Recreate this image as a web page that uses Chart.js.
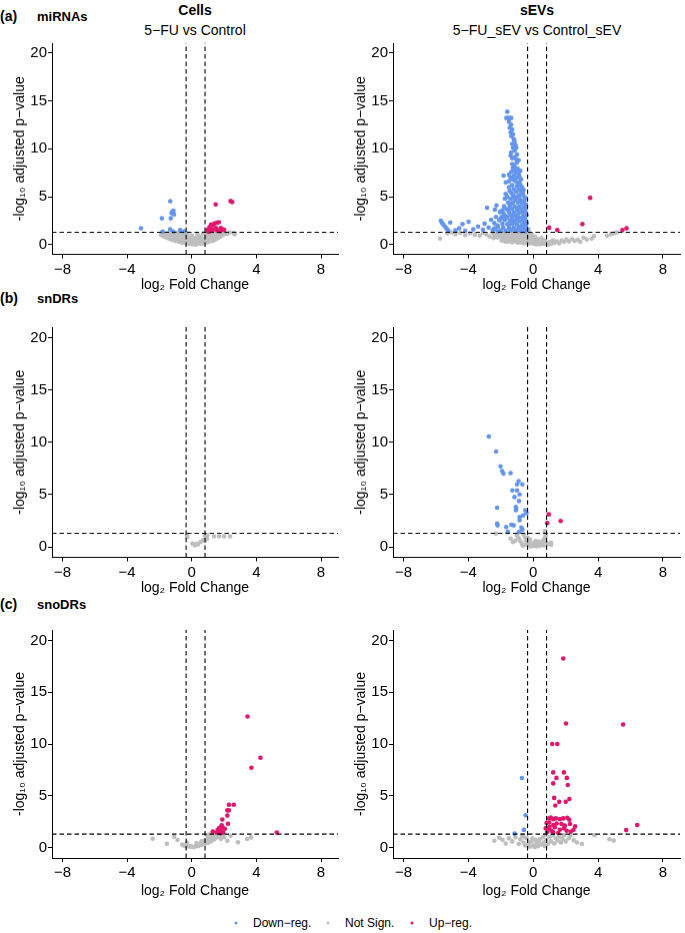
<!DOCTYPE html>
<html lang="en">
<head>
<meta charset="UTF-8">
<title>Volcano plots: miRNAs, snDRs, snoDRs</title>
<script src="https://cdn.jsdelivr.net/npm/chart.js"></script>
<style>
  body { margin: 0; background: #fff; font-family: "Liberation Sans", Arial, Helvetica, sans-serif; color: #000; }
  #fig { position: relative; width: 685px; height: 933px; overflow: hidden; }
  .t { position: absolute; white-space: nowrap; transform: translate(-50%, -50%); }
  .r { position: absolute; white-space: nowrap; transform: translateY(-50%); font-weight: bold; }
  .dot { position: absolute; width: 3px; height: 3px; border-radius: 50%; transform: translate(-50%, -50%); }
  canvas { position: absolute; }
</style>
</head>
<body>
<div id="fig">
  <div class="r" style="left:0;top:16px;font-size:14px">(a)</div>
  <div class="r" style="left:37px;top:16px;font-size:13px">miRNAs</div>
  <div class="r" style="left:0;top:298px;font-size:14px">(b)</div>
  <div class="r" style="left:37px;top:298px;font-size:13px">snDRs</div>
  <div class="r" style="left:0;top:604px;font-size:14px">(c)</div>
  <div class="r" style="left:37px;top:604px;font-size:13px">snoDRs</div>

  <div class="t" style="left:195px;top:10px;font-size:14px;font-weight:bold">Cells</div>
  <div class="t" style="left:195px;top:30px;font-size:14px">5−FU vs Control</div>
  <div class="t" style="left:537px;top:10px;font-size:14px;font-weight:bold">sEVs</div>
  <div class="t" style="left:537px;top:30px;font-size:14px">5−FU_sEV vs Control_sEV</div>

  <div class="dot" style="left:236px;top:923px;background:#6495ED"></div>
  <div class="r" style="left:253px;top:923px;font-size:12px;font-weight:normal">Down−reg.</div>
  <div class="dot" style="left:328px;top:923px;background:#BEBEBE"></div>
  <div class="r" style="left:345px;top:923px;font-size:12px;font-weight:normal">Not Sign.</div>
  <div class="dot" style="left:412px;top:923px;background:#E0176C"></div>
  <div class="r" style="left:429px;top:923px;font-size:12px;font-weight:normal">Up−reg.</div>
</div>

<script>
// axis ticks and cut-offs
const xTicks = [-8, -4, 0, 4, 8];
const yTicks = [0, 5, 10, 15, 20];
const fcLow = -0.35;
const fcHigh = 0.82;
const pCut = 1.3;

// (a) miRNAs, cells
const a1Down = [[-1.33,4.54],[-1.13,3.55],[-1.25,3.3],[-1.1,3.15],[-1.2,3.45],[-1.85,2.75],[-1.3,2.75],
  [-3.14,1.72],[-1.8,1.38],[-1.34,1.6],[-1.14,1.38],[-0.72,1.52],[-0.47,1.4]];
const a1Up = [[1.48,4.2],[2.4,4.55],[2.5,4.45],[0.98,1.55],[1.1,1.85],[1.2,2.1],[1.3,2.05],[1.4,2.2],
  [1.55,2.3],[1.68,2.35],[1.5,1.75],[1.3,1.6],[1.15,1.45],[1.05,1.35],[1.8,1.75],[1.9,1.6],[2.0,1.55],
  [1.6,1.45],[1.42,1.6],[1.75,1.4]];
const a1NS = [[-1.9,1.05],[-1.85,1.25],[-1.8,0.9],[-1.7,1.15],[-1.65,0.8],[-1.6,1.0],[-1.5,0.7],[-1.5,1.25],
  [-1.4,0.9],[-1.35,0.6],[-1.3,1.1],[-1.2,0.5],[-1.2,0.85],[-1.1,1.2],[-1.05,0.65],[-1.0,0.4],[-0.95,0.95],
  [-0.9,1.25],[-0.85,0.55],[-0.8,0.3],[-0.75,0.8],[-0.7,1.1],[-0.65,0.45],[-0.6,0.2],[-0.55,0.7],[-0.5,1.0],
  [-0.45,0.35],[-0.4,0.6],[-0.35,0.15],[-0.3,0.85],[-0.25,1.2],[-0.2,0.4],[-0.15,0.1],[-0.1,0.6],[-0.05,0.25],
  [0,0.95],[0.05,0.05],[0.1,0.45],[0.15,0.2],[0.2,0.7],[0.25,0.02],[0.3,0.35],[0.35,1.1],[0.4,0.12],[0.45,0.55],
  [0.5,0.25],[0.55,0.85],[0.6,0.1],[0.65,0.4],[0.7,1.2],[0.75,0.2],[0.8,0.65],[0.85,0.35],[0.9,0.95],[0.95,0.25],
  [1.0,0.55],[1.05,1.25],[1.1,0.35],[1.15,0.8],[1.2,0.5],[1.25,1.05],[1.3,0.4],[1.35,0.7],[1.4,1.2],[1.45,0.55],
  [1.5,0.9],[1.55,0.65],[1.6,1.1],[1.65,0.75],[1.7,1.25],[1.75,0.85],[1.8,1.05],[1.85,0.95],[1.9,1.2],[2.0,1.1],
  [2.1,1.25],[2.2,1.15],[2.35,1.3],[2.6,1.25],[2.65,1.1],
  [-1.0,1.05],[-0.6,0.9],[-0.2,0.75],[0.1,0.25],[0.45,0.85],[0.8,0.3],[1.1,0.6],[1.3,0.95],[-0.4,1.2],
  [0.25,0.5],[0.6,0.5],[-0.8,0.65],[0.95,1.1],[1.6,0.85],[-1.3,0.75],[0.0,0.4]];

// (a) miRNAs, sEVs
const a2Down = [[-1.6,13.85],[-1.66,13.2],[-1.56,13.2],[-1.46,13.2],[-1.36,13.2],
  [-1.37,12.5],[-1.3,12.0],[-1.45,12.2],[-1.25,11.5],[-1.35,11.3],[-1.2,11.0],
  [-1.16,10.8],[-1.3,10.5],[-1.25,10.1],[-1.05,10.1],[-1.15,9.8],[-1.37,9.6],[-1.0,9.4],[-1.16,9.1],[-1.3,9.0],
  [-1.01,8.55],[-1.2,8.3],[-1.25,8.0],[-1.1,8.0],[-0.95,7.9],[-1.35,7.6],[-1.05,7.5],[-0.9,7.4],[-1.83,7.2],
  [-1.2,7.2],[-1.0,7.0],[-0.85,7.1],[-1.4,7.0],
  [-1.7,6.5],[-1.5,6.6],[-1.1,6.6],[-0.9,6.5],[-0.8,6.3],[-1.3,6.2],[-1.0,6.1],[-0.7,6.0],[-1.2,5.8],[-0.9,5.8],
  [-0.75,5.6],[-1.45,5.6],[-1.05,5.5],[-0.65,5.4],[-1.7,5.3],[-1.25,5.2],[-0.85,5.2],[-0.6,5.1],[-1.0,5.0],
  [-1.75,4.8],[-1.4,4.8],[-1.1,4.7],[-0.8,4.7],[-0.55,4.6],[-1.55,4.4],[-1.25,4.4],[-0.95,4.4],[-0.7,4.3],
  [-0.45,4.2],[-2.27,4.1],[-1.8,4.0],[-1.45,4.0],[-1.15,4.0],[-0.85,3.95],[-0.6,3.9],[-2.85,3.85],[-2.37,3.65],
  [-1.65,3.7],[-1.3,3.7],[-1.0,3.6],[-0.75,3.6],[-0.5,3.5],[-2.06,3.4],[-1.5,3.4],[-1.2,3.35],[-0.9,3.3],
  [-0.65,3.25],[-1.83,3.25],[-0.42,3.1],[-1.4,3.1],[-1.05,3.05],
  [-2.3,2.9],[-1.95,2.9],[-1.6,2.85],[-1.3,2.8],[-1.0,2.75],[-0.75,2.8],[-0.5,2.7],[-2.6,2.6],[-2.1,2.55],
  [-1.75,2.6],[-1.45,2.5],[-1.15,2.5],[-0.85,2.45],[-0.6,2.4],[-0.4,2.3],[-3.0,2.2],[-2.4,2.25],[-1.9,2.2],
  [-1.6,2.15],[-1.3,2.2],[-1.0,2.1],[-0.7,2.05],[-0.45,2.0],[-3.4,1.9],[-2.75,1.8],[-2.2,1.85],[-1.85,1.8],
  [-1.5,1.75],[-1.2,1.8],[-0.9,1.7],[-0.6,1.65],[-0.4,1.6],[-3.7,1.6],[-3.1,1.55],[-2.5,1.5],[-2.0,1.5],
  [-1.7,1.45],[-1.4,1.5],[-1.05,1.45],[-0.75,1.4],[-0.5,1.4],[-4.57,1.71],[-4.36,2.15],[-3.99,2.39],[-5.12,2.32],
  [-5.7,2.5],[-5.63,2.3],[-5.55,2.1],[-5.45,1.9],[-5.35,1.7],[-5.25,1.5],[-4.2,1.45],[-4.8,1.5],
  [-1.5,12.8],[-1.4,11.7],[-1.1,10.4],[-1.4,9.3],[-0.9,8.8],[-1.05,8.9],[-1.3,8.4],[-0.8,7.7],[-1.15,7.7],
  [-1.5,7.3],[-0.75,6.8],[-1.25,6.8],[-0.95,6.2],[-1.5,6.0],[-0.6,5.7],[-1.35,5.4],[-0.5,4.9],[-0.9,4.9],
  [-1.2,4.9],[-1.6,5.0],[-0.65,4.5],[-1.35,4.3],[-0.5,3.8],[-1.0,3.85],[-1.55,3.7],[-1.9,3.6],[-0.8,3.45],
  [-1.7,3.0],[-0.55,3.0],[-1.25,3.0],[-0.95,2.95],[-2.0,2.7],[-0.65,2.6],[-1.35,2.4],[-0.5,2.15],[-1.1,2.3],
  [-2.2,2.0],[-1.5,2.0],[-0.8,1.85],[-2.4,1.7],[-1.3,1.6],[-0.6,1.5],[-2.2,1.4],[-0.95,1.55]];
const a2Up = [[0.98,1.78],[1.48,1.54],[3.03,2.15],[3.51,4.89],[5.5,1.54],[5.75,1.71]];
const a2NS = [[-5.75,0.65],[-5.3,1.2],[-5.05,1.3],[-4.8,1.1],[-4.5,1.25],[-4.2,1.0],[-3.9,1.2],[-3.6,1.05],
  [-3.3,0.95],[-3.1,1.25],[-2.9,1.1],[-2.7,0.85],[-2.5,1.2],[-2.35,0.95],[-2.2,0.75],[-2.1,1.15],[-2.0,0.9],
  [-1.9,0.6],[-1.85,1.25],[-1.75,1.0],[-1.7,0.5],[-1.6,0.8],[-1.55,1.2],[-1.5,0.4],[-1.45,0.95],[-1.4,0.65],
  [-1.3,1.1],[-1.25,0.35],[-1.2,0.8],[-1.15,1.25],[-1.1,0.55],[-1.05,0.95],[-1.0,0.3],[-0.95,1.15],[-0.9,0.7],
  [-0.85,0.45],[-0.8,1.0],[-0.75,0.25],[-0.7,1.25],[-0.65,0.6],[-0.6,0.85],[-0.55,0.35],[-0.5,1.1],[-0.45,0.5],
  [-0.4,0.2],[-0.35,0.8],[-0.3,1.3],[-0.28,1.6],[-0.25,0.45],[-0.2,0.15],[-0.15,0.7],[-0.1,1.05],[-0.05,0.3],
  [0,0.55],[0.05,0.1],[0.1,0.85],[0.15,0.35],[0.2,0.05],[0.25,0.6],[0.3,0.2],[0.4,0.4],[0.45,0.05],[0.5,0.7],
  [0.55,0.25],[0.65,0.1],[0.7,0.45],[0.8,0.2],[0.9,0.02],[1.0,0.3],[1.1,0.1],[1.2,0.45],[1.3,0.2],[1.45,0.35],
  [1.6,0.15],[1.75,0.45],[1.9,0.3],[2.05,0.55],[2.2,0.35],[2.4,0.6],[2.55,0.4],[2.75,0.5],[2.9,0.3],[3.1,0.75],
  [3.3,0.55],[3.6,0.65],[3.75,0.9],[4.55,0.95],[4.8,1.1],[5.0,1.2],[5.15,1.3],
  [-2.45,0.7],[-2.25,1.05],[-2.05,1.25],[-1.95,0.45],[-1.8,0.75],[-1.65,1.05],[-1.6,0.3],[-1.45,0.55],
  [-1.35,0.85],[-1.3,0.25],[-1.2,1.2],[-1.15,0.45],[-1.05,0.7],[-0.95,0.2],[-0.9,0.95],[-0.85,1.25],
  [-0.75,0.55],[-0.7,0.8],[-0.6,0.15],[-0.55,0.65],[-0.5,0.4],[-0.45,0.95],[-0.4,1.25],[-0.35,0.3],
  [-0.3,0.6],[-0.2,0.9],[-0.15,0.4],[-0.1,0.2],[0,0.75],[0.1,0.45],[0.2,0.25],[0.3,0.5],[0.35,0.15],
  [0.6,0.35],[0.75,0.15],[-0.25,1.1],[-0.65,1.1],[-1.0,0.5],[-1.4,1.2],[-1.75,0.35]];

// (b) snDRs, cells
const b1NS = [[-0.3,1.1],[-0.28,0.95],[0.04,0.32],[0.19,0.16],[0.3,0.28],[0.39,0.25],[0.56,0.48],[0.7,0.64],
  [0.8,0.57],[0.93,0.76],[0.96,1.1],[0.82,1.12],[0.88,0.9],[1.38,1.02],[1.69,1.02],[2.0,1.02],[2.37,1.02]];

// (b) snDRs, sEVs
const b2Down = [[-2.74,10.54],[-2.29,9.11],[-2.02,7.69],[-1.92,7.24],[-1.84,7.0],[-1.4,7.05],[-0.9,6.29],
  [-1.0,5.97],[-0.67,5.97],[-1.29,5.4],[-1.0,5.4],[-0.84,5.02],[-1.16,4.76],[-0.88,4.38],[-0.49,3.5],
  [-0.42,3.24],[-1.07,3.81],[-1.07,3.5],[-2.23,3.75],[-0.84,2.86],[-0.63,3.0],[-0.84,2.54],[-2.23,2.22],
  [-2.2,2.06],[-1.35,2.12],[-1.21,2.06],[-1.67,1.9],[-0.73,1.84],[-0.67,1.65],[-1.57,1.43],[-0.88,1.43],
  [-1.05,3.65]];
const b2Up = [[0.96,3.11],[0.86,2.29],[1.69,2.48]];
const b2NS = [[-2.3,1.27],[-1.4,0.79],[-1.25,0.47],[-1.0,1.1],[-0.9,0.85],[-0.8,0.55],[-0.7,0.3],[-0.6,1.2],
  [-0.5,0.9],[-0.45,0.6],[-0.4,0.25],[-0.3,0.45],[-0.25,0.15],[-0.2,0.7],[-0.1,0.3],[0,0.1],[0.05,0.4],
  [0.1,0.2],[0.2,0.05],[0.25,0.3],[0.3,0.15],[0.35,0.5],[0.4,0.1],[0.5,0.2],[0.55,0.35],[0.6,0.6],[0.65,0.15],
  [0.7,0.8],[0.75,1.0],[0.78,1.25],[0.72,1.5],[0.8,0.45],[0.85,0.25],[-0.55,0.2],[-0.65,0.1],[-0.35,0.9],
  [0.15,0.55],[-0.15,0.05],[1.1,0.4],[1.1,0.2],[-1.1,0.6]];

// (c) snoDRs, cells
const c1Up = [[3.45,12.66],[4.25,8.67],[3.69,7.71],[2.3,4.14],[2.6,4.14],[2.2,3.6],[2.3,3.6],[2.2,3.09],
  [1.89,2.71],[2.24,2.3],[1.9,2.0],[1.85,2.15],[2.05,1.82],[1.78,1.76],[1.68,1.5],[1.54,1.45],[1.89,1.45],
  [1.8,1.4],[1.95,1.5],[1.3,1.55],[5.26,1.45],[1.6,1.7],[1.7,1.9]];
const c1NS = [[-2.42,0.86],[-1.54,0.38],[-1.09,1.05],[-0.88,0.73],[-0.6,0.3],[-0.5,0.2],[-0.4,0.15],[-0.3,0.2],
  [-0.2,0.1],[-0.1,0.15],[0,0.1],[0.1,0.05],[0.2,0.1],[0.3,0.2],[0.4,0.15],[0.5,0.3],[0.6,0.25],[0.7,0.4],
  [0.8,0.35],[0.9,0.55],[1.0,0.45],[1.1,0.7],[1.2,0.6],[1.3,0.9],[1.4,0.8],[1.5,1.1],[1.6,1.0],[1.7,1.2],
  [1.0,0.9],[1.2,1.1],[0.8,0.7],[0.95,1.2],[1.15,1.3],[1.35,1.25],[2.2,0.67],[2.86,0.51],[3.43,0.83],
  [3.67,0.99],[2.4,1.15],[1.9,1.25],[2.0,1.0],[1.8,0.85],[0.6,0.6],[0.3,0.45],[-0.3,0.5]];

// (c) snoDRs, sEVs
const c2Down = [[-0.7,6.72],[-0.47,3.12],[-0.58,1.71],[-1.15,1.35]];
const c2Up = [[1.85,18.25],[2.02,11.98],[5.54,11.88],[1.17,10.0],[1.48,10.0],[1.23,7.26],[1.89,7.26],
  [1.43,6.73],[2.07,6.73],[1.23,6.2],[2.13,6.04],[1.29,4.8],[2.23,4.7],[1.6,4.42],[2.0,4.42],[1.36,4.07],
  [6.41,2.18],[5.73,1.69],
  [0.98,2.82],[1.08,2.9],[1.23,2.75],[1.39,2.82],[1.64,2.75],[1.85,2.82],[2.1,2.88],[2.22,2.69],[0.82,2.37],
  [0.98,2.42],[1.23,2.18],[1.44,2.33],[1.74,2.28],[1.95,2.12],[2.27,2.28],[2.58,2.05],[0.77,1.86],[0.92,1.79],
  [1.12,1.63],[1.33,1.96],[1.64,1.73],[1.89,1.86],[2.06,1.63],[2.31,1.54],[2.48,1.73],[1.23,1.47],[1.54,1.41],
  [0.85,1.5],[1.0,2.0]];
const c2NS = [[-2.4,0.66],[-2.1,0.95],[-1.9,0.75],[-1.7,0.4],[-1.5,0.9],[-1.3,0.6],[-1.1,1.0],[-0.9,0.35],
  [-0.8,0.8],[-0.7,1.2],[-0.6,0.5],[-0.5,0.2],[-0.4,0.9],[-0.3,0.35],[-0.2,0.1],[-0.1,0.6],[0,0.2],[0.1,0.05],
  [0.2,0.4],[0.3,0.15],[0.4,0.8],[0.5,0.3],[0.6,1.0],[0.65,0.5],[0.7,0.15],[0.75,1.25],[0.8,0.7],[0.9,0.35],
  [1.0,1.0],[1.1,0.6],[1.2,1.2],[1.3,0.4],[1.4,0.9],[1.5,0.7],[1.6,1.1],[1.7,0.5],[1.8,0.85],[1.9,1.2],
  [2.0,0.6],[2.2,0.9],[2.3,1.15],[2.5,0.7],[2.7,0.5],[3.0,0.35],[3.78,1.2],[4.7,0.8],[4.96,0.68],[-0.05,0.9],
  [0.35,0.6],[-0.55,1.0],[0.15,0.75],[-0.25,0.55]];

const FONT = '"Liberation Sans", Arial, Helvetica, sans-serif';
const BLUE = '#6495ED', PINK = '#E0176C', GREY = '#BEBEBE';
const xMin = -8.65, xMax = 9.05, yMin = -1, yMax = 21;
const fig = document.getElementById('fig');

const fmt = v => v < 0 ? '−' + Math.abs(v) : String(v);
const pts = arr => arr.map(([x, y]) => ({ x, y }));

function dashed(data) {
    return { data, showLine: true, pointRadius: 0, borderColor: '#000', borderWidth: 1.1, borderDash: [4.5, 3] };
}
function dots(arr, color) {
    return { data: pts(arr), pointRadius: 2.3, pointBackgroundColor: color, pointBorderWidth: 0, showLine: false };
}

// box: plot area edges in page pixels, xH: height of x axis block
function panel(box, ns, down, up) {
    const padTop = 10, padRight = 5, yW = 52;
    const w = yW + (box.r - box.l) + padRight;
    const h = padTop + (box.b - box.t) + box.xH;
    const cv = document.createElement('canvas');
    cv.width = w; cv.height = h;
    cv.style.width = w + 'px'; cv.style.height = h + 'px';
    cv.style.left = (box.l - yW) + 'px';
    cv.style.top = (box.t - padTop) + 'px';
    fig.appendChild(cv);

    const axisCommon = {
        grid: { drawOnChartArea: false, drawTicks: true, tickLength: 4, color: '#000', lineWidth: 1 },
        border: { display: true, color: '#000', width: 1 },
    };

    new Chart(cv, {
        type: 'scatter',
        data: {
            datasets: [
                dashed([{ x: xMin, y: pCut }, { x: xMax, y: pCut }]),
                dashed([{ x: fcLow, y: yMin }, { x: fcLow, y: yMax }]),
                dashed([{ x: fcHigh, y: yMin }, { x: fcHigh, y: yMax }]),
                dots(up, PINK),
                dots(down, BLUE),
                dots(ns, GREY),
            ]
        },
        options: {
            responsive: false,
            animation: false,
            devicePixelRatio: 1,
            layout: { padding: { top: padTop, right: padRight, left: 0, bottom: 0 } },
            plugins: { legend: { display: false }, tooltip: { enabled: false } },
            scales: {
                x: {
                    ...axisCommon,
                    type: 'linear', min: xMin, max: xMax,
                    afterBuildTicks: s => { s.ticks = xTicks.map(v => ({ value: v })); },
                    afterFit: s => { s.height = box.xH; },
                    ticks: { callback: fmt, font: { size: 15, family: FONT }, color: '#000', padding: 2, maxRotation: 0, autoSkip: false },
                    title: { display: true, text: 'log₂ Fold Change', font: { size: 14, family: FONT }, color: '#000', padding: { top: 0, bottom: 0 } }
                },
                y: {
                    ...axisCommon,
                    type: 'linear', min: yMin, max: yMax,
                    afterBuildTicks: s => { s.ticks = yTicks.map(v => ({ value: v })); },
                    afterFit: s => { s.width = yW; },
                    ticks: { callback: fmt, font: { size: 15, family: FONT }, color: '#000', padding: 1 },
                    title: { display: true, text: '-log₁₀ adjusted p−value', font: { size: 14, family: FONT }, color: '#000', padding: { top: 12, bottom: 0 } }
                }
            }
        }
    });
}

const rowA = { t: 43, b: 254, xH: 39.5 };
const rowB = { t: 327, b: 557, xH: 39.5 };
const rowC = { t: 630, b: 858, xH: 42 };
const colL = { l: 52, r: 338 };
const colR = { l: 393, r: 680 };

panel({ ...rowA, ...colL }, a1NS, a1Down, a1Up);
panel({ ...rowA, ...colR }, a2NS, a2Down, a2Up);
panel({ ...rowB, ...colL }, b1NS, [], []);
panel({ ...rowB, ...colR }, b2NS, b2Down, b2Up);
panel({ ...rowC, ...colL }, c1NS, [], c1Up);
panel({ ...rowC, ...colR }, c2NS, c2Down, c2Up);
</script>
</body>
</html>
